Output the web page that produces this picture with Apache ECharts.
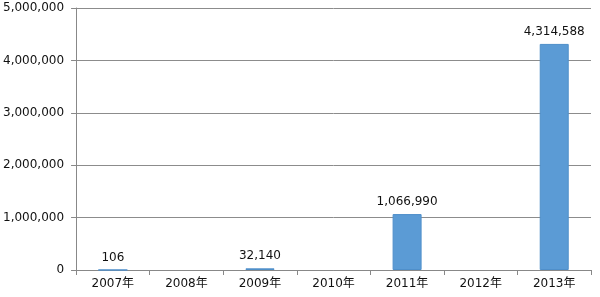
<!DOCTYPE html>
<html><head><meta charset="utf-8">
<script src="https://cdn.jsdelivr.net/npm/echarts@6/dist/echarts.min.js"></script>
<style>html,body{margin:0;padding:0;background:#fff}#c{width:600px;height:297px}</style>
</head><body><div id="c"></div>
<script>
const categories = ['2007年','2008年','2009年','2010年','2011年','2012年','2013年'];
const values = [106, 0, 32140, 0, 1066990, 0, 4314588];
const yTicks = {min: 0, max: 5000000, interval: 1000000};
const labelShown = [true, false, true, false, true, false, true];

const fmt = v => v.toLocaleString('en-US');
const chart = echarts.init(document.getElementById('c'));
chart.setOption({
  animation: false,
  grid: {left: 75, right: 9, top: 8, bottom: 27},
  xAxis: {
    type: 'category', data: categories,
    axisLine: {lineStyle: {color: '#888', width: 1}},
    axisTick: {show: true, alignWithLabel: false, length: 5, lineStyle: {color: '#888'}},
    axisLabel: {color: '#111', fontSize: 12, fontFamily: 'DejaVu Sans, Noto Sans CJK SC', margin: 8}
  },
  yAxis: {
    type: 'value', min: yTicks.min, max: yTicks.max, interval: yTicks.interval,
    axisLine: {show: true, lineStyle: {color: '#888'}},
    axisTick: {show: true, length: 5, lineStyle: {color: '#888'}},
    splitLine: {lineStyle: {color: '#8c8c8c', width: 1}},
    axisLabel: {color: '#111', fontSize: 12, fontFamily: 'DejaVu Sans', margin: 12, formatter: fmt}
  },
  series: [{
    type: 'bar',
    data: values.map((v, i) => ({
      value: v,
      label: {show: labelShown[i]},
      itemStyle: {borderWidth: v > 0 ? 1 : 0}
    })),
    barWidth: 29,
    itemStyle: {color: '#5b9bd5', borderColor: '#4f8fca'},
    label: {position: 'top', color: '#111', fontSize: 12, fontFamily: 'DejaVu Sans', distance: 6,
      formatter: p => fmt(p.value)}
  }]
});
</script></body></html>
